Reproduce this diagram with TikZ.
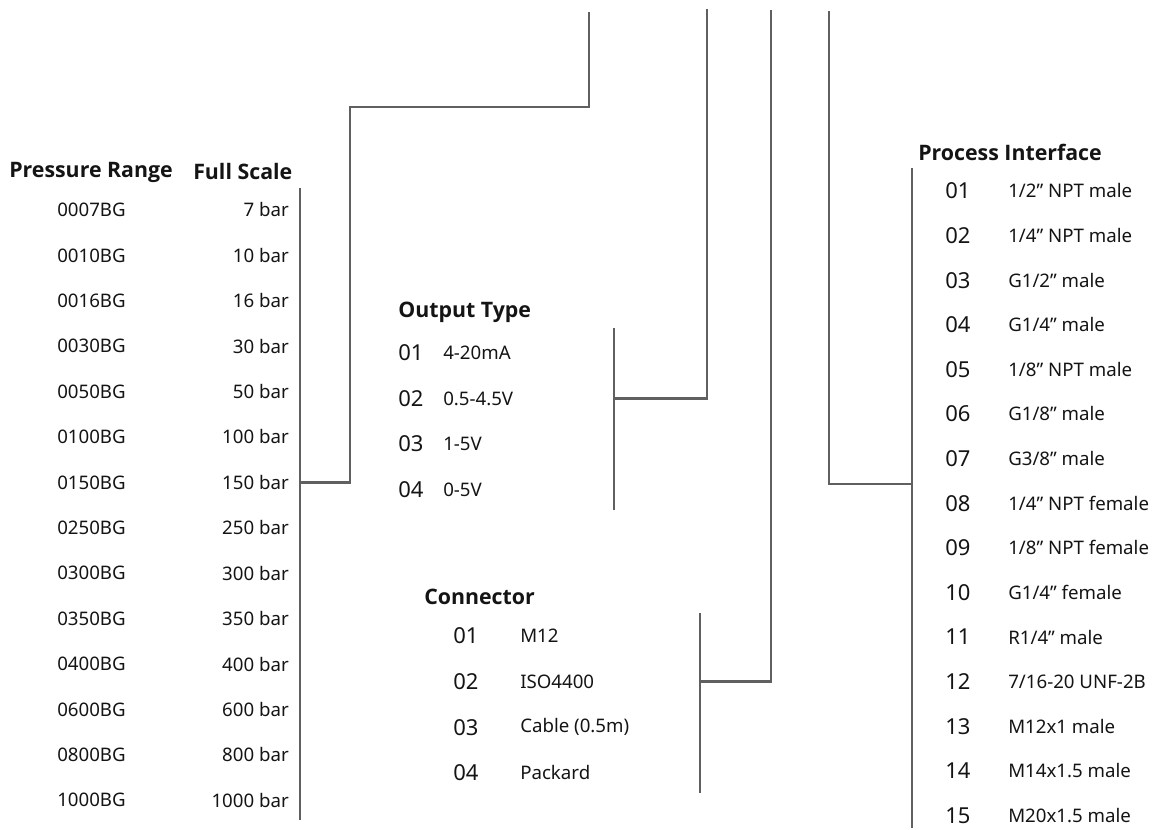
\documentclass[tikz,border=0pt]{standalone}
\usepackage{fontspec}
\setmainfont{Noto Sans}
\newfontfamily\headfont{Open Sans}
\definecolor{BusGray}{RGB}{96,96,96}
\definecolor{InkBlack}{RGB}{20,20,20}

\begin{document}
\begin{tikzpicture}[x=0.75pt,y=-0.75pt,
    head/.style={font=\headfont\bfseries\fontsize{16}{18}\selectfont,text=InkBlack,anchor=west,inner sep=0pt},
    code/.style={font=\fontsize{16.5}{19}\selectfont,text=InkBlack,anchor=west,inner sep=0pt},
    item/.style={font=\fontsize{14}{16}\selectfont,text=InkBlack,anchor=west,inner sep=0pt},
    bus/.style={draw=BusGray,line width=2.2pt}]
  \useasboundingbox (0,0) rectangle (1157,830);

  \node[head] (prhead) at (9,172) {Pressure Range};
  \node[head] (fshead) at (193,172) {Full Scale};
  \foreach \code/\fs [count=\i from 0] in {0007BG/7,0010BG/10,0016BG/16,0030BG/30,
      0050BG/50,0100BG/100,0150BG/150,0250BG/250,0300BG/300,0350BG/350,
      0400BG/400,0600BG/600,0800BG/800,1000BG/1000}{
    \node[item] (pr\i) at (57,210+45.4*\i) {\code};
    \node[item,anchor=east] (fs\i) at (289,210+45.4*\i) {\fs\ bar};
  }

  \node[head] (othead) at (398,312) {Output Type};
  \foreach \lbl [count=\i from 0] in {4-20mA,0.5-4.5V,1-5V,0-5V}{
    \node[code] (otnum\i) at (398,353+45.5*\i) {0\the\numexpr\i+1\relax};
    \node[item] (ot\i) at (443,353+45.5*\i) {\lbl};
  }

  \node[head] (cnhead) at (424,597) {Connector};
  \foreach \lbl [count=\i from 0] in {M12,ISO4400,Cable (0.5m),Packard}{
    \node[code] (cnnum\i) at (453,636+45.6*\i) {0\the\numexpr\i+1\relax};
    \node[item] (cn\i) at (520,636+45.6*\i) {\lbl};
  }

  \node[head] (pihead) at (918,152) {Process Interface};
  \foreach \num/\lbl [count=\i from 0] in {01/{1/2” NPT male},02/{1/4” NPT male},
      03/{G1/2” male},04/{G1/4” male},05/{1/8” NPT male},06/{G1/8” male},07/{G3/8” male},
      08/{1/4” NPT female},09/{1/8” NPT female},10/{G1/4” female},11/{R1/4” male},
      12/{7/16-20 UNF-2B},13/{M12x1 male},14/{M14x1.5 male},15/{M20x1.5 male}}{
    \node[code] (pinum\i) at (945,191+44.6*\i) {\num};
    \node[item] (pi\i) at (1008,191+44.6*\i) {\lbl};
  }

  \coordinate (prtop) at (300,188);
  \coordinate (prbot) at (300,820);
  \coordinate (prknee) at (350,107);
  \coordinate (prend) at (589,12);
  \draw[bus] (prtop) -- (prbot);
  \draw[bus] (prtop |- fs6) -| (prknee) -| (prend);

  \coordinate (ottop) at (614,328);
  \coordinate (otbot) at (614,510);
  \coordinate (otend) at (707,9);
  \draw[bus] (ottop) -- (otbot);
  \draw[bus] (ottop |- ot1) -| (otend);

  \coordinate (cntop) at (700,613);
  \coordinate (cnbot) at (700,793);
  \coordinate (cnend) at (771,10);
  \draw[bus] (cntop) -- (cnbot);
  \draw[bus] (cntop |- cn1) -| (cnend);

  \coordinate (pitop) at (912,168);
  \coordinate (pibot) at (912,828);
  \coordinate (pimid) at (912,484);
  \coordinate (piend) at (829,11);
  \draw[bus] (pitop) -- (pibot);
  \draw[bus] (pimid) -| (piend);
\end{tikzpicture}
\end{document}
